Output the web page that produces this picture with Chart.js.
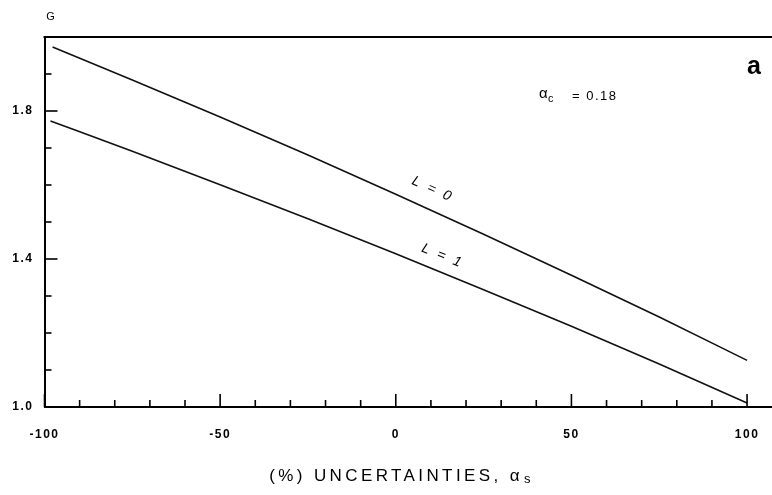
<!DOCTYPE html>
<html>
<head>
<meta charset="utf-8">
<script src="https://cdn.jsdelivr.net/npm/chart.js@4/dist/chart.umd.min.js"></script>
<style>
  html, body { margin: 0; padding: 0; background: #fff; }
  #wrap { width: 772px; height: 495px; position: relative; }
</style>
</head>
<body>
<div id="wrap"><canvas id="c" width="772" height="495"></canvas></div>
<script>
// ---- data ----
const xL0 = [-97.7, -75, -50, -25, 0, 25, 50, 75, 100];
const gL0 = [1.973, 1.884, 1.784, 1.681, 1.575, 1.467, 1.356, 1.243, 1.126];
const xL1 = [-98.3, -75, -50, -25, 0, 25, 50, 75, 100];
const gL1 = [1.773, 1.691, 1.601, 1.509, 1.414, 1.317, 1.218, 1.116, 1.011];
const seriesNames = ['L = 0', 'L = 1'];

// ---- ticks ----
const xTickValues = [-100, -90, -80, -70, -60, -50, -40, -30, -20, -10, 0, 10, 20, 30, 40, 50, 60, 70, 80, 90, 100];
const xTickLabels = [-100, -50, 0, 50, 100];
const yTickValues = [1.0, 1.1, 1.2, 1.3, 1.4, 1.5, 1.6, 1.7, 1.8, 1.9];
const yTickLabels = ['1.0', '1.4', '1.8'];

const xTitle = '(%) UNCERTAINTIES, \u03B1';
const xTitleSub = 's';
const yTitle = 'G';
const panelLetter = 'a';
const paramText = ['\u03B1', 'c', '= 0.18'];

const FONT = '"Liberation Sans", Arial, sans-serif';

const toPts = (xs, ys) => xs.map((x, i) => ({ x: x, y: ys[i] }));

const spacing = {
  id: 'spacing',
  beforeLayout(chart) { chart.ctx.letterSpacing = '1.5px'; },
  beforeDraw(chart) { chart.ctx.letterSpacing = '1.5px'; }
};

const decor = {
  id: 'decor',
  afterDraw(chart) {
    const ctx = chart.ctx;
    const a = chart.chartArea;
    const xs = chart.scales.x, ys = chart.scales.y;
    ctx.save();
    ctx.strokeStyle = '#000';
    ctx.fillStyle = '#000';
    // top frame line
    ctx.lineWidth = 2;
    ctx.beginPath();
    ctx.moveTo(a.left - 1, a.top);
    ctx.lineTo(a.right, a.top);
    ctx.stroke();
    // inward ticks
    ctx.lineWidth = 1.6;
    yTickValues.forEach(v => {
      const py = ys.getPixelForValue(v);
      const major = yTickLabels.includes(v.toFixed(1));
      ctx.beginPath();
      ctx.moveTo(a.left, py);
      ctx.lineTo(a.left + (major ? 13 : 7), py);
      ctx.stroke();
    });
    xTickValues.forEach(v => {
      const px = xs.getPixelForValue(v);
      const major = xTickLabels.includes(v);
      ctx.beginPath();
      ctx.moveTo(px, a.bottom);
      ctx.lineTo(px, a.bottom - (major ? 13 : 7));
      ctx.stroke();
    });

    // y title "G"
    ctx.letterSpacing = '0px';
    ctx.font = '11px ' + FONT;
    ctx.textAlign = 'center';
    ctx.textBaseline = 'middle';
    ctx.fillText(yTitle, a.left + 6, 17);

    // x title with subscript
    ctx.font = '17px ' + FONT;
    ctx.letterSpacing = '3.4px';
    ctx.textAlign = 'left';
    ctx.textBaseline = 'middle';
    const w1 = ctx.measureText(xTitle).width;
    ctx.font = '13px ' + FONT;
    const w2 = ctx.measureText(xTitleSub).width;
    let sx = 401 - (w1 + w2) / 2;
    ctx.font = '17px ' + FONT;
    ctx.fillText(xTitle, sx, 476);
    ctx.font = '13px ' + FONT;
    ctx.fillText(xTitleSub, sx + w1 + 1, 479);

    // parameter text
    ctx.letterSpacing = '1px';
    ctx.font = '15px ' + FONT;
    ctx.fillText(paramText[0], 539, 94);
    ctx.font = '11px ' + FONT;
    ctx.fillText(paramText[1], 548, 99);
    ctx.letterSpacing = '1.5px';
    ctx.font = '13px ' + FONT;
    ctx.fillText(paramText[2], 572, 96);

    // panel letter
    ctx.letterSpacing = '0px';
    ctx.font = 'bold 25px ' + FONT;
    ctx.textAlign = 'center';
    ctx.fillText(panelLetter, 754, 67);

    // curve labels, rotated along the curves
    ctx.font = 'italic 14px ' + FONT;
    ctx.letterSpacing = '2.5px';
    const lab = [
      { ds: 0, x: 10.5, y: 1.588, i0: 4, i1: 5 },
      { ds: 1, x: 13.3, y: 1.408, i0: 4, i1: 5 }
    ];
    lab.forEach(l => {
      const d = chart.data.datasets[l.ds].data;
      const ang = Math.atan2(ys.getPixelForValue(d[l.i1].y) - ys.getPixelForValue(d[l.i0].y),
                             xs.getPixelForValue(d[l.i1].x) - xs.getPixelForValue(d[l.i0].x));
      ctx.save();
      ctx.translate(xs.getPixelForValue(l.x), ys.getPixelForValue(l.y));
      ctx.rotate(ang);
      ctx.textAlign = 'center';
      ctx.fillText(seriesNames[l.ds], 0, 0);
      ctx.restore();
    });
    ctx.restore();
  }
};

new Chart(document.getElementById('c'), {
  type: 'line',
  data: {
    datasets: [
      { label: seriesNames[0], data: toPts(xL0, gL0), borderColor: '#111', borderWidth: 1.6,
        pointRadius: 0, fill: false, cubicInterpolationMode: 'monotone' },
      { label: seriesNames[1], data: toPts(xL1, gL1), borderColor: '#111', borderWidth: 1.6,
        pointRadius: 0, fill: false, cubicInterpolationMode: 'monotone' }
    ]
  },
  options: {
    responsive: false,
    animation: false,
    devicePixelRatio: 1,
    layout: { padding: { top: 37, right: 0, left: 0, bottom: 0 } },
    plugins: { legend: { display: false }, tooltip: { enabled: false } },
    scales: {
      x: {
        type: 'linear', min: -100, max: 107.1,
        afterBuildTicks: s => { s.ticks = xTickValues.map(v => ({ value: v })); },
        afterFit: s => { s.height = 88; s.paddingLeft = 0; s.paddingRight = 0; },
        grid: { display: false, drawTicks: false },
        border: { display: true, color: '#000', width: 2 },
        ticks: {
          autoSkip: false, maxRotation: 0, padding: 20, color: '#000',
          font: { family: FONT, size: 12, weight: 'bold' },
          callback: v => xTickLabels.includes(v) ? String(v) : ''
        }
      },
      y: {
        type: 'linear', min: 1.0, max: 2.0,
        afterBuildTicks: s => { s.ticks = yTickValues.map(v => ({ value: v })); },
        afterFit: s => { s.width = 44.5; s.paddingTop = 0; s.paddingBottom = 0; },
        grid: { display: false, drawTicks: false },
        border: { display: true, color: '#000', width: 2 },
        ticks: {
          autoSkip: false, padding: 11, color: '#000',
          font: { family: FONT, size: 12, weight: 'bold' },
          callback: v => { const t = Number(v).toFixed(1); return yTickLabels.includes(t) ? t : ''; }
        }
      }
    }
  },
  plugins: [spacing, decor]
});
</script>
</body>
</html>
